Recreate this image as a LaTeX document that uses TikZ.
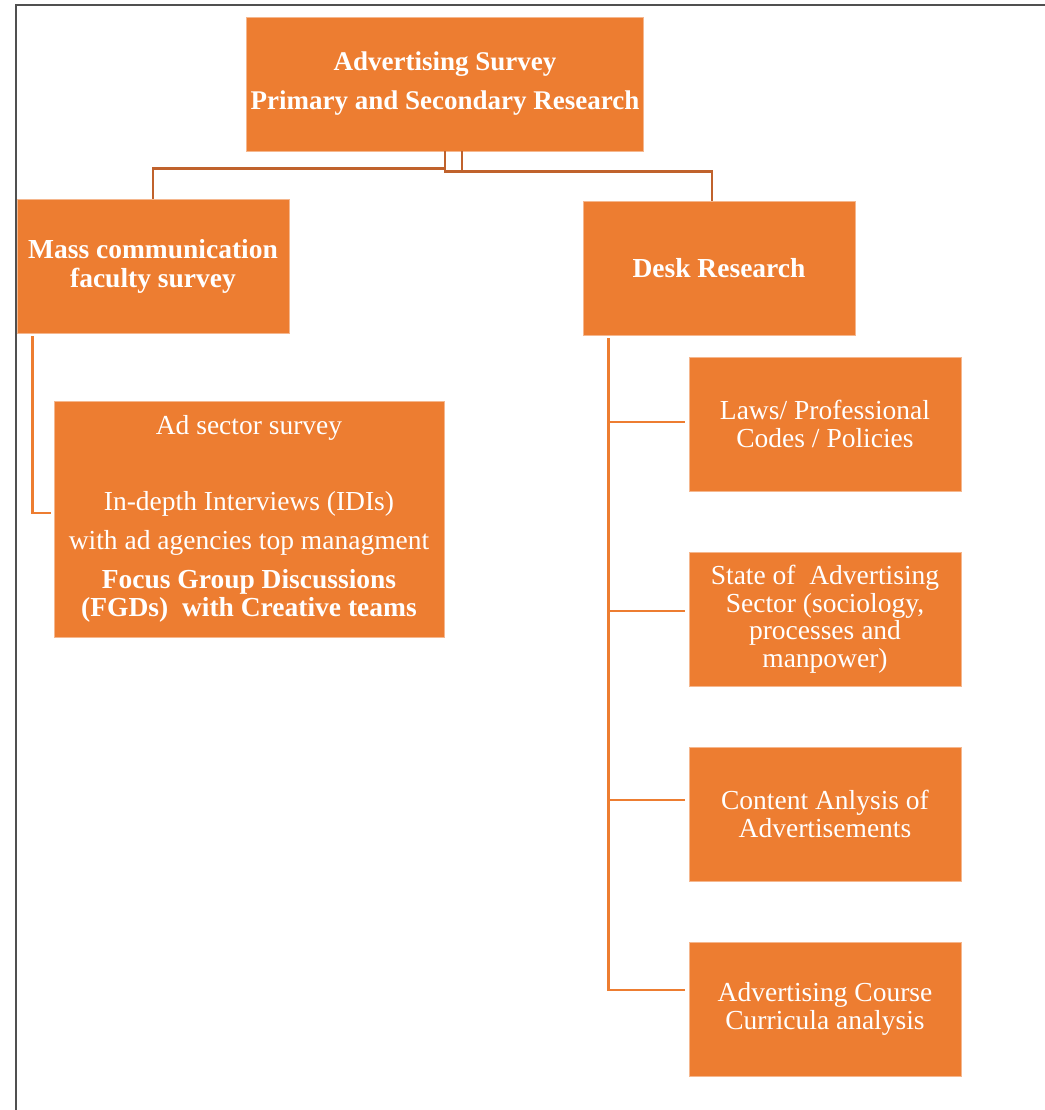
\documentclass[tikz,border=0pt]{standalone}
\usepackage{fontspec}
\setmainfont{Liberation Serif}
\usetikzlibrary{positioning}
\definecolor{tangerine}{RGB}{237,125,49}
\definecolor{rust}{RGB}{192,98,44}
\definecolor{slate}{RGB}{80,80,80}
\tikzset{
  tile/.style={fill=tangerine,draw=tangerine!55!white,line width=0.4pt,text=white,
    align=center,minimum width=136pt,minimum height=67pt,inner sep=2pt,
    font=\fontsize{13.75}{13.75}\selectfont},
  head/.style={tile,font=\fontsize{13.75}{14.5}\selectfont\bfseries},
  flow/.style={draw=#1,line width=1.2pt},
  flow/.default=tangerine,
}

\begin{document}
\begin{tikzpicture}[x=0.5pt,y=-0.5pt]
  \useasboundingbox (0,0) rectangle (1045,1110);
  \draw[slate,line width=0.8pt] (16,1110) -- (16,5) -- (1045,5);
  % top level
  \node[head,minimum width=197pt,font=\fontsize{13.5}{14}\selectfont\bfseries] (survey) at (445,84)
    {Advertising Survey\\[5.5pt]Primary and Secondary Research};
  \node[head] (faculty) at (153,266) {Mass communication\\faculty survey};
  \node[head] (desk) at (719,268) {Desk Research};
  \node[tile,minimum width=195pt,minimum height=118pt] (adsector) at (249,519)
    {Ad sector survey\\[24.25pt]In-depth Interviews (IDIs)\\[5.75pt]with ad agencies top managment\\[5.75pt]
     \textbf{Focus Group Discussions}\\\textbf{(FGDs)~ with Creative teams}};
  \draw[flow=rust] (survey.south) -- ++(0,17) -| (faculty.north);
  \draw[flow=rust] ([xshift=8.5pt]survey.south) -- ++(0,20) -| ([xshift=-3.5pt]desk.north);
  \draw[flow=rust] (survey.south) -- ++(0,20) -- ++(17,0);
  \draw[flow,shorten >=1.5pt] ([xshift=8pt,yshift=-1.5pt]faculty.south west) |- ([yshift=3pt]adsector.west);
  % desk research items
  \coordinate (spine) at ([xshift=13pt,yshift=-1.5pt]desk.south west);
  \foreach \t/\y/\s [count=\i] in {
    {Laws/ Professional\\Codes / Policies}/424/1pt,
    {State of~ Advertising\\Sector (sociology,\\processes and\\manpower)}/619/4pt,
    {Content Anlysis of\\Advertisements}/814/7pt,
    {Advertising Course\\Curricula analysis}/1009/9.5pt}
  {
    \node[tile] (d\i) at (825,\y) {\t};
    \draw[flow,shorten >=2pt] (spine) |- ([yshift=\s]d\i.west);
  }
\end{tikzpicture}
\end{document}
